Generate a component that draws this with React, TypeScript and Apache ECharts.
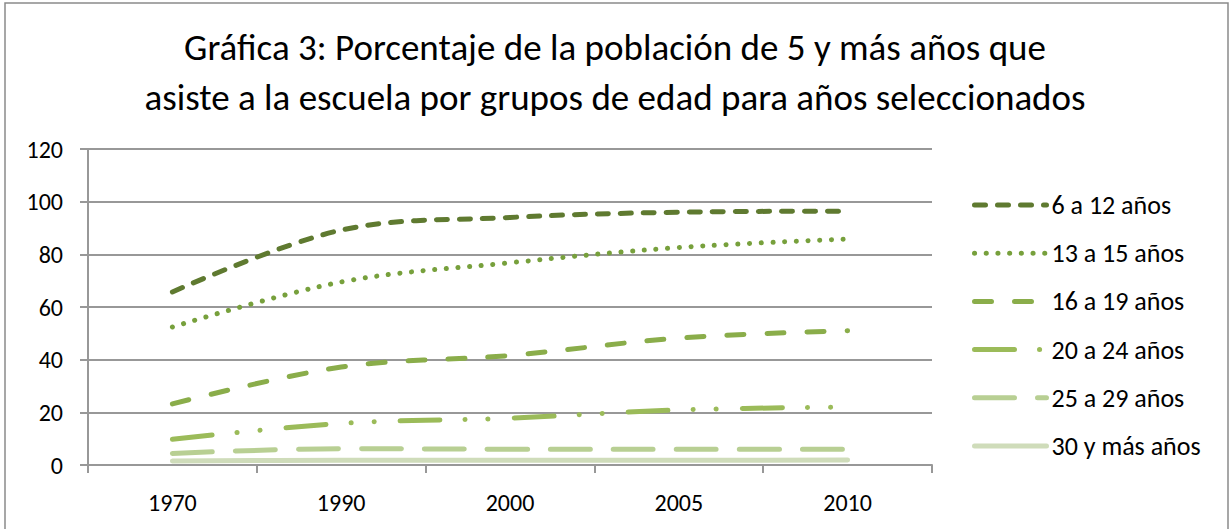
import React, { useEffect, useRef } from "react";
import * as echarts from "echarts";

const categories = ["1970", "1990", "2000", "2005", "2010"];
const seriesNames = ["6 a 12 años", "13 a 15 años", "16 a 19 años", "20 a 24 años", "25 a 29 años", "30 y más años"];
const s6a12 = [65.7, 89.2, 94, 96, 96.4];
const s13a15 = [52.4, 69.5, 76.8, 82.6, 85.8];
const s16a19 = [23.2, 37.2, 41.6, 48.2, 51];
const s20a24 = [9.8, 15.8, 17.8, 20.9, 22];
const s25a29 = [4.4, 6.2, 6, 6, 6];
const s30mas = [1.5, 1.8, 1.8, 1.8, 1.9];
const yTicks = { min: 0, max: 120, interval: 20 };
const title = "Gráfica 3: Porcentaje de la población de 5 y más años que\nasiste a la escuela por grupos de edad para años seleccionados";

const FONT = "Carlito, Calibri, Lato, sans-serif";

export default function App() {
  const ref = useRef<HTMLDivElement>(null);
  useEffect(() => {
    document.body.style.margin = "0";
    const chart = echarts.init(ref.current!, null, { renderer: "svg" });
    const styles = [
      { color: "#5f7a30", dash: [11, 12] },
      { color: "#77a03c", dash: [0.1, 11.6] },
      { color: "#8aad4a", dash: [17, 23] },
      { color: "#9bbb59", dash: [40, 25, 0.1, 23, 0.1, 26] },
      { color: "#b8cf93", dash: [40, 23] },
      { color: "#cfdcba", dash: null as any },
    ];
    const data = [s6a12, s13a15, s16a19, s20a24, s25a29, s30mas];
    chart.setOption({
      animation: false,
      textStyle: { fontFamily: FONT },
      title: {
        text: title,
        left: "center",
        top: 22,
        padding: 0,
        textStyle: { fontFamily: FONT, fontSize: 37, fontWeight: "normal", color: "#000", lineHeight: 50 },
      },
      graphic: [
        {
          type: "rect",
          shape: { x: 5, y: 3, width: 1223, height: 540 },
          style: { fill: "none", stroke: "#8a8a8a", lineWidth: 1.5 },
          silent: true,
        },
      ],
      legend: {
        orient: "vertical",
        left: 972,
        top: 192,
        padding: 0,
        itemWidth: 72,
        itemHeight: 14,
        itemGap: 22.2,
        textStyle: { fontFamily: FONT, fontSize: 26, color: "#000", lineHeight: 26 },
        lineStyle: { width: 5 },
        itemStyle: { opacity: 0 },
        data: seriesNames,
      },
      grid: { left: 88, right: 298, top: 149, bottom: 64 },
      xAxis: {
        type: "category",
        data: categories,
        boundaryGap: true,
        axisLine: { lineStyle: { color: "#989898", width: 2 } },
        axisTick: { show: true, length: 8, lineStyle: { color: "#989898", width: 2 } },
        axisLabel: { color: "#000", fontSize: 24, fontFamily: FONT, margin: 25 },
      },
      yAxis: {
        type: "value",
        min: yTicks.min,
        max: yTicks.max,
        interval: yTicks.interval,
        axisLine: { show: true, lineStyle: { color: "#989898", width: 2 } },
        axisTick: { show: true, length: 8, lineStyle: { color: "#989898", width: 2 } },
        splitLine: { lineStyle: { color: "#989898", width: 2 } },
        axisLabel: { color: "#000", fontSize: 24, fontFamily: FONT, margin: 25 },
      },
      series: data.map((d, i) => ({
        name: seriesNames[i],
        type: "line",
        data: d,
        smooth: 0.35,
        symbol: "none",
        color: styles[i].color,
        lineStyle: {
          color: styles[i].color,
          width: 5,
          type: styles[i].dash ? styles[i].dash : "solid",
          cap: "round",
          join: "round",
        },
      })),
    });
    return () => chart.dispose();
  }, []);
  return <div ref={ref} style={{ width: 1230, height: 529 }} />;
}
